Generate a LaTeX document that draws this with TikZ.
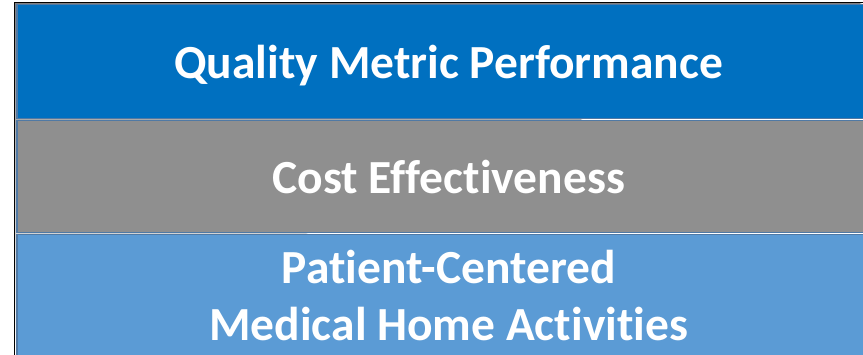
\documentclass[tikz,border=0pt]{standalone}
\usepackage{fontspec}
\setmainfont{Carlito}[Ligatures=NoCommon]
\usetikzlibrary{positioning}
\definecolor{qualblue}{HTML}{0070C0}
\definecolor{costgray}{HTML}{8F8F8F}
\definecolor{homeblue}{HTML}{5B9BD5}
\definecolor{bandline}{HTML}{5079A4}
\definecolor{shade}{HTML}{D9D9D9}
\tikzset{
  band/.style={rectangle, draw=bandline, line width=1.5pt, minimum width=864pt,
    inner sep=0pt, text=white, font=\bfseries\fontsize{47.5}{57}\selectfont,
    align=center}
}

\begin{document}
\begin{tikzpicture}[x=1pt,y=-1pt]
% Page frame in pixel units, origin at the top left corner
\useasboundingbox (0,0) rectangle (863,355);
% Faint shadow along the top and left edges of the stack
\draw[shade, line width=1.5pt] (14.5,355) -- (14.5,2.5) -- (863,2.5);
% The three bands, stacked from top to bottom (they run on past the right edge)
\node[band, fill=qualblue, minimum height=114pt, text depth=0pt, anchor=north west] (qual) at (16,4) {Quality Metric Performance};
\node[band, fill=costgray, minimum height=112pt, below=0.5pt of qual] (cost) {Cost Effectiveness};
\node[band, fill=homeblue, minimum height=122pt, below=0.5pt of cost] (pcmh) {Patient-Centered\\Medical Home Activities};
\end{tikzpicture}
\end{document}
